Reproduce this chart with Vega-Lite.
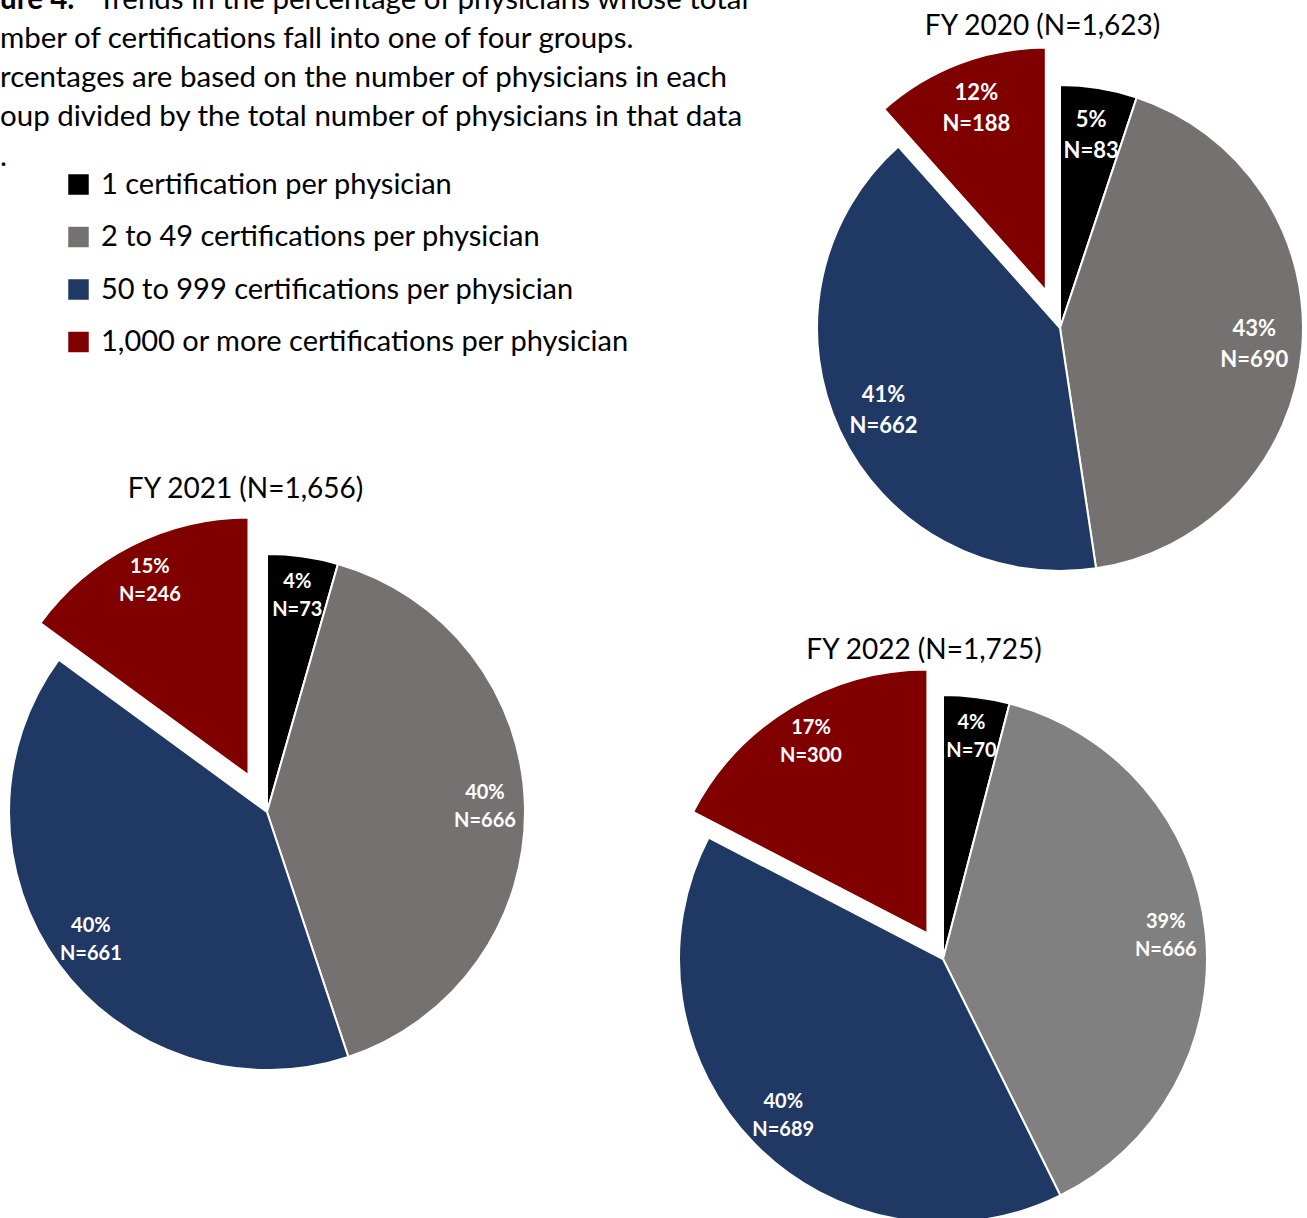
{
  "$schema": "https://vega.github.io/schema/vega-lite/v6.json",
  "padding": 0,
  "background": "white",
  "datasets": {
    "pies": [
      {"year": "FY 2020", "group": "1 certification per physician", "ord": 1, "n": 83, "pct": 5},
      {"year": "FY 2020", "group": "2 to 49 certifications per physician", "ord": 2, "n": 690, "pct": 43},
      {"year": "FY 2020", "group": "50 to 999 certifications per physician", "ord": 3, "n": 662, "pct": 41},
      {"year": "FY 2020", "group": "1,000 or more certifications per physician", "ord": 4, "n": 188, "pct": 12},
      {"year": "FY 2021", "group": "1 certification per physician", "ord": 1, "n": 73, "pct": 4},
      {"year": "FY 2021", "group": "2 to 49 certifications per physician", "ord": 2, "n": 666, "pct": 40},
      {"year": "FY 2021", "group": "50 to 999 certifications per physician", "ord": 3, "n": 661, "pct": 40},
      {"year": "FY 2021", "group": "1,000 or more certifications per physician", "ord": 4, "n": 246, "pct": 15},
      {"year": "FY 2022", "group": "1 certification per physician", "ord": 1, "n": 70, "pct": 4},
      {"year": "FY 2022", "group": "2 to 49 certifications per physician", "ord": 2, "n": 666, "pct": 39},
      {"year": "FY 2022", "group": "50 to 999 certifications per physician", "ord": 3, "n": 689, "pct": 40},
      {"year": "FY 2022", "group": "1,000 or more certifications per physician", "ord": 4, "n": 300, "pct": 17}
    ],
    "caption": [
      {"line": 1, "part": "bold", "text": "ure 4."},
      {"line": 1, "part": "rest", "text": "Trends in the percentage of physicians whose total"},
      {"line": 2, "part": "body", "text": "mber of certifications fall into one of four groups."},
      {"line": 3, "part": "body", "text": "rcentages are based on the number of physicians in each"},
      {"line": 4, "part": "body", "text": "oup divided by the total number of physicians in that data"},
      {"line": 5, "part": "body", "text": "."}
    ]
  },
  "bounds": "flush",
  "spacing": 815,
  "hconcat": [
    {
      "bounds": "flush",
      "spacing": 39,
      "vconcat": [
        {
          "width": 760,
          "height": 516,
          "data": {"name": "caption"},
          "encoding": {
            "x": {"datum": 0, "type": "quantitative", "scale": {"domain": [0, 1]}, "axis": null},
            "y": {"field": "line", "type": "quantitative", "scale": {"domain": [0, 5], "range": [-30.8, 165.7]}, "axis": null},
            "text": {"field": "text"}
          },
          "layer": [
            {"transform": [{"filter": "datum.part === 'body'"}], "mark": {"type": "text", "align": "left", "baseline": "alphabetic", "font": "Lato", "fontSize": 29.5, "color": "black", "clip": true}},
            {"transform": [{"filter": "datum.part === 'bold'"}], "mark": {"type": "text", "align": "left", "baseline": "alphabetic", "font": "Lato", "fontSize": 29.5, "fontWeight": "bold", "color": "black", "clip": true}},
            {"transform": [{"filter": "datum.part === 'rest'"}], "mark": {"type": "text", "align": "left", "baseline": "alphabetic", "font": "Lato", "fontSize": 29.5, "color": "black", "dx": 98, "clip": true}}
          ]
        },
        {
          "width": 534,
          "height": 514,
          "data": {"name": "pies"},
          "title": {"text": "FY 2021 (N=1,656)", "dx": -21.5, "offset": 9},
          "transform": [
            {"filter": "datum.year === 'FY 2021'"},
            {"calculate": "[datum.pct + '%', 'N=' + datum.n]", "as": "label"}
          ],
          "encoding": {
            "theta": {"field": "n", "type": "quantitative", "stack": true},
            "order": {"field": "ord", "type": "quantitative"},
            "color": {"field": "group", "type": "nominal", "title": null, "scale": {"domain": ["1 certification per physician", "2 to 49 certifications per physician", "50 to 999 certifications per physician", "1,000 or more certifications per physician"], "range": ["#000000", "#767171", "#203864", "#800000"]}}
          },
          "layer": [
            {"mark": {"type": "arc", "outerRadius": 258, "stroke": "white", "strokeWidth": 2},
             "encoding": {"opacity": {"condition": {"test": "datum.ord === 4", "value": 0}, "value": 1}}},
            {"transform": [
               {"stack": "n", "groupby": [], "sort": [{"field": "ord", "order": "ascending"}], "as": ["s0", "s1"]},
               {"filter": "datum.ord === 4"}
             ],
             "mark": {"type": "arc", "outerRadius": 258, "stroke": "white", "strokeWidth": 2, "xOffset": -18.5, "yOffset": -36.6},
             "encoding": {"theta": {"field": "s0", "type": "quantitative", "stack": null}, "theta2": {"field": "s1"}}},
            {"mark": {"type": "text", "radius": 218, "font": "Lato", "fontWeight": "bold", "fontSize": 20, "lineHeight": 28, "color": "white", "baseline": "middle", "dy": -14},
             "encoding": {"text": {"field": "label"}, "color": {"value": "white"}, "opacity": {"condition": {"test": "datum.ord === 4", "value": 0}, "value": 1}}},
            {"mark": {"type": "text", "radius": 218, "font": "Lato", "fontWeight": "bold", "fontSize": 20, "lineHeight": 28, "color": "white", "baseline": "middle", "dy": -14, "xOffset": -18.5, "yOffset": -36.6},
             "encoding": {"text": {"field": "label"}, "color": {"value": "white"}, "opacity": {"condition": {"test": "datum.ord === 4", "value": 1}, "value": 0}}}
          ]
        }
      ]
    },
    {
      "bounds": "flush",
      "spacing": 39,
      "vconcat": [
        {
          "width": 490,
          "height": 656,
          "data": {"name": "pies"},
          "title": {"text": "FY 2020 (N=1,623)", "dx": -17.5, "offset": -41},
          "transform": [
            {"filter": "datum.year === 'FY 2020'"},
            {"calculate": "[datum.pct + '%', 'N=' + datum.n]", "as": "label"}
          ],
          "encoding": {
            "theta": {"field": "n", "type": "quantitative", "stack": true},
            "order": {"field": "ord", "type": "quantitative"},
            "color": {"field": "group", "type": "nominal", "title": null, "scale": {"domain": ["1 certification per physician", "2 to 49 certifications per physician", "50 to 999 certifications per physician", "1,000 or more certifications per physician"], "range": ["#000000", "#767171", "#203864", "#800000"]}}
          },
          "layer": [
            {"mark": {"type": "arc", "outerRadius": 243, "stroke": "white", "strokeWidth": 2},
             "encoding": {"opacity": {"condition": {"test": "datum.ord === 4", "value": 0}, "value": 1}}},
            {"transform": [
               {"stack": "n", "groupby": [], "sort": [{"field": "ord", "order": "ascending"}], "as": ["s0", "s1"]},
               {"filter": "datum.ord === 4"}
             ],
             "mark": {"type": "arc", "outerRadius": 243, "stroke": "white", "strokeWidth": 2, "xOffset": -14.2, "yOffset": -37.4},
             "encoding": {"theta": {"field": "s0", "type": "quantitative", "stack": null}, "theta2": {"field": "s1"}}},
            {"mark": {"type": "text", "radius": 195, "font": "Lato", "fontWeight": "bold", "fontSize": 22, "lineHeight": 31, "color": "white", "baseline": "middle", "dy": -15.5},
             "encoding": {"text": {"field": "label"}, "color": {"value": "white"}, "opacity": {"condition": {"test": "datum.ord === 4", "value": 0}, "value": 1}}},
            {"mark": {"type": "text", "radius": 195, "font": "Lato", "fontWeight": "bold", "fontSize": 22, "lineHeight": 31, "color": "white", "baseline": "middle", "dy": -15.5, "xOffset": -14.2, "yOffset": -37.4},
             "encoding": {"text": {"field": "label"}, "color": {"value": "white"}, "opacity": {"condition": {"test": "datum.ord === 4", "value": 1}, "value": 0}}}
          ]
        },
        {
          "width": 256,
          "height": 528,
          "data": {"name": "pies"},
          "title": {"text": "FY 2022 (N=1,725)", "dx": -19, "offset": 0.5},
          "transform": [
            {"filter": "datum.year === 'FY 2022'"},
            {"calculate": "[datum.pct + '%', 'N=' + datum.n]", "as": "label"}
          ],
          "encoding": {
            "theta": {"field": "n", "type": "quantitative", "stack": true},
            "order": {"field": "ord", "type": "quantitative"},
            "color": {"condition": {"test": "datum.ord === 2", "value": "#808080"}, "field": "group", "type": "nominal", "title": null, "scale": {"domain": ["1 certification per physician", "2 to 49 certifications per physician", "50 to 999 certifications per physician", "1,000 or more certifications per physician"], "range": ["#000000", "#767171", "#203864", "#800000"]}}
          },
          "layer": [
            {"mark": {"type": "arc", "outerRadius": 264, "stroke": "white", "strokeWidth": 2},
             "encoding": {"opacity": {"condition": {"test": "datum.ord === 4", "value": 0}, "value": 1}}},
            {"transform": [
               {"stack": "n", "groupby": [], "sort": [{"field": "ord", "order": "ascending"}], "as": ["s0", "s1"]},
               {"filter": "datum.ord === 4"}
             ],
             "mark": {"type": "arc", "outerRadius": 264, "stroke": "white", "strokeWidth": 2, "xOffset": -15.6, "yOffset": -25.6},
             "encoding": {"theta": {"field": "s0", "type": "quantitative", "stack": null}, "theta2": {"field": "s1"}}},
            {"mark": {"type": "text", "radius": 224, "font": "Lato", "fontWeight": "bold", "fontSize": 20, "lineHeight": 28, "color": "white", "baseline": "middle", "dy": -14},
             "encoding": {"text": {"field": "label"}, "color": {"value": "white"}, "opacity": {"condition": {"test": "datum.ord === 4", "value": 0}, "value": 1}}},
            {"mark": {"type": "text", "radius": 224, "font": "Lato", "fontWeight": "bold", "fontSize": 20, "lineHeight": 28, "color": "white", "baseline": "middle", "dy": -14, "xOffset": -15.6, "yOffset": -25.6},
             "encoding": {"text": {"field": "label"}, "color": {"value": "white"}, "opacity": {"condition": {"test": "datum.ord === 4", "value": 1}, "value": 0}}}
          ]
        }
      ]
    }
  ],
  "resolve": {"scale": {"color": "shared"}},
  "config": {
    "view": {"stroke": null},
    "title": {"font": "Lato", "fontSize": 28, "fontWeight": "normal", "color": "black", "anchor": "middle"},
    "legend": {
      "orient": "none", "legendX": 64, "legendY": 170,
      "symbolType": "square", "symbolSize": 420, "symbolStrokeWidth": 0,
      "labelFont": "Lato", "labelFontSize": 29, "labelColor": "black", "labelOffset": 8,
      "rowPadding": 22.5, "labelLimit": 800
    }
  }
}
